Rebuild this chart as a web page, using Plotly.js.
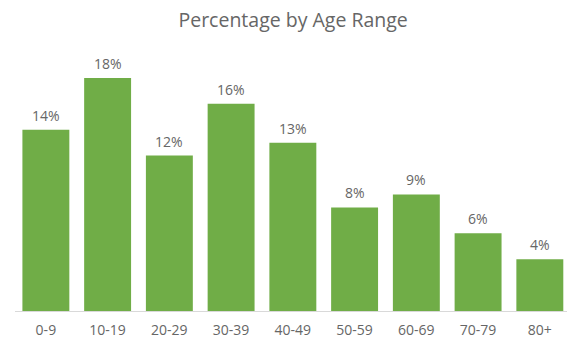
<!DOCTYPE html>
<html>
<head>
<meta charset="utf-8">
<script src="https://cdn.plot.ly/plotly-3.0.1.min.js"></script>
<style>
  html, body { margin: 0; padding: 0; background: #ffffff; overflow: hidden; }
  #chart { width: 567px; height: 339px; }
</style>
</head>
<body>
<div id="chart"></div>
<script>
// Share of people in each age band (percent)
const ageRanges = ['0-9', '10-19', '20-29', '30-39', '40-49', '50-59', '60-69', '70-79', '80+'];
const percentages = [14, 18, 12, 16, 13, 8, 9, 6, 4];

const labelColor = '#666666';
const fontFamily = 'Open Sans, Lato, sans-serif';

const trace = {
  type: 'bar',
  x: ageRanges,
  y: percentages,
  marker: { color: '#70AD47' },
  width: 0.76,
  hoverinfo: 'x+y'
};

// value labels sit a little above each bar
const valueLabels = ageRanges.map((cat, i) => ({
  x: cat,
  y: percentages[i],
  xref: 'x',
  yref: 'y',
  text: percentages[i] + '%',
  showarrow: false,
  yanchor: 'bottom',
  yshift: 3,
  font: { family: fontFamily, size: 14, color: labelColor }
}));

const layout = {
  width: 567,
  height: 339,
  margin: { l: 15, r: 0, t: 52, b: 28 },
  paper_bgcolor: '#ffffff',
  plot_bgcolor: '#ffffff',
  showlegend: false,
  title: {
    text: 'Percentage by Age Range',
    font: { family: fontFamily, size: 19.5, color: labelColor },
    x: 0.517,
    xanchor: 'center',
    y: 0.94,
    yanchor: 'middle'
  },
  xaxis: {
    type: 'category',
    range: [-0.5, 8.44],
    showline: true,
    linecolor: '#d9d9d9',
    linewidth: 1,
    ticks: 'outside',
    ticklen: 6,
    tickcolor: 'rgba(0,0,0,0)',
    showgrid: false,
    tickfont: { family: fontFamily, size: 14, color: labelColor }
  },
  yaxis: {
    range: [0, 20],
    visible: false,
    showgrid: false,
    zeroline: false
  },
  annotations: valueLabels
};

Plotly.newPlot('chart', [trace], layout, { displayModeBar: false, staticPlot: true });
</script>
</body>
</html>
